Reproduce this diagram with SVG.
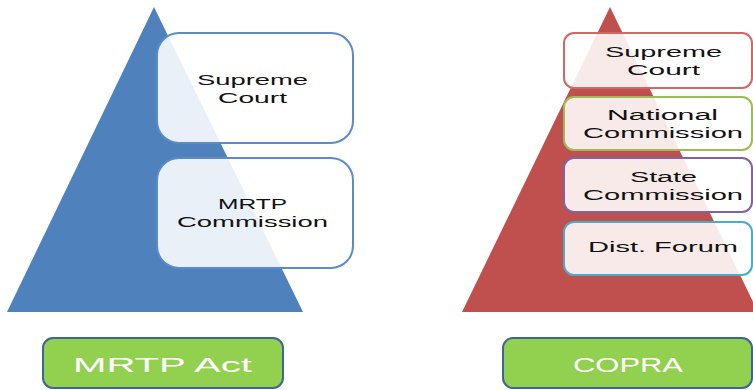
<svg xmlns="http://www.w3.org/2000/svg" width="753" height="390" viewBox="0 0 753 390">
  <style>
    .lbl { font-family: "Liberation Sans", Arial, sans-serif; fill: #111111; }
    .sm { font-size: 15.5px; }
    .md { font-size: 15.5px; }
    .big { font-family: "Liberation Sans", Arial, sans-serif; font-size: 21px; fill: #ffffff; }
    .card { fill: #ffffff; fill-opacity: 0.88; stroke-width: 2; }
    .blue { stroke: #5b8bc8; }
    .red { stroke: #d26764; }
    .green { stroke: #9bbb59; }
    .purple { stroke: #8064a2; }
    .cyan { stroke: #4bacc6; }
    .act { fill: #92d050; stroke: #3f6594; stroke-width: 2; }
  </style>

  <rect width="753" height="390" fill="#ffffff"/>

  <!-- pyramids -->
  <g id="pyramid-mrtp">
    <polygon points="154,7 7,312 303,312" fill="#4f81bd"/>
  </g>
  <g id="pyramid-copra">
    <polygon points="610,7 462,312 758,312" fill="#c0504d"/>
  </g>

  <!-- left hierarchy -->
  <g id="mrtp-supreme-court">
    <rect class="card blue" x="157" y="33" width="196" height="110" rx="22"/>
    <text class="lbl sm" x="197" y="85" textLength="111" lengthAdjust="spacingAndGlyphs">Supreme</text>
    <text class="lbl sm" x="218" y="103" textLength="69" lengthAdjust="spacingAndGlyphs">Court</text>
  </g>
  <g id="mrtp-commission">
    <rect class="card blue" x="157" y="158" width="196" height="110" rx="22"/>
    <text class="lbl sm" x="218" y="209" textLength="69" lengthAdjust="spacingAndGlyphs">MRTP</text>
    <text class="lbl sm" x="177" y="227" textLength="151" lengthAdjust="spacingAndGlyphs">Commission</text>
  </g>

  <!-- right hierarchy -->
  <g id="copra-supreme-court">
    <rect class="card red" x="564" y="33" width="188" height="55" rx="10"/>
    <text class="lbl md" x="605" y="57" textLength="117" lengthAdjust="spacingAndGlyphs">Supreme</text>
    <text class="lbl md" x="627" y="75" textLength="73" lengthAdjust="spacingAndGlyphs">Court</text>
  </g>
  <g id="national-commission">
    <rect class="card green" x="564" y="97" width="188" height="53" rx="10"/>
    <text class="lbl md" x="607" y="120" textLength="111" lengthAdjust="spacingAndGlyphs">National</text>
    <text class="lbl md" x="583" y="138" textLength="160" lengthAdjust="spacingAndGlyphs">Commission</text>
  </g>
  <g id="state-commission">
    <rect class="card purple" x="564" y="158" width="188" height="54" rx="10"/>
    <text class="lbl md" x="630" y="182" textLength="67" lengthAdjust="spacingAndGlyphs">State</text>
    <text class="lbl md" x="583" y="200" textLength="160" lengthAdjust="spacingAndGlyphs">Commission</text>
  </g>
  <g id="dist-forum">
    <rect class="card cyan" x="564" y="222" width="188" height="53" rx="10"/>
    <text class="lbl md" x="588" y="252" textLength="150" lengthAdjust="spacingAndGlyphs">Dist. Forum</text>
  </g>

  <!-- act labels -->
  <g id="mrtp-act">
    <rect class="act" x="43" y="338" width="240" height="50" rx="10"/>
    <text class="big" x="73" y="372" textLength="179" lengthAdjust="spacingAndGlyphs">MRTP Act</text>
  </g>
  <g id="copra">
    <rect class="act" x="503" y="338" width="249" height="50" rx="10"/>
    <text class="big" x="573" y="372" textLength="110" lengthAdjust="spacingAndGlyphs">COPRA</text>
  </g>

  <g id="connectors"/>
</svg>
